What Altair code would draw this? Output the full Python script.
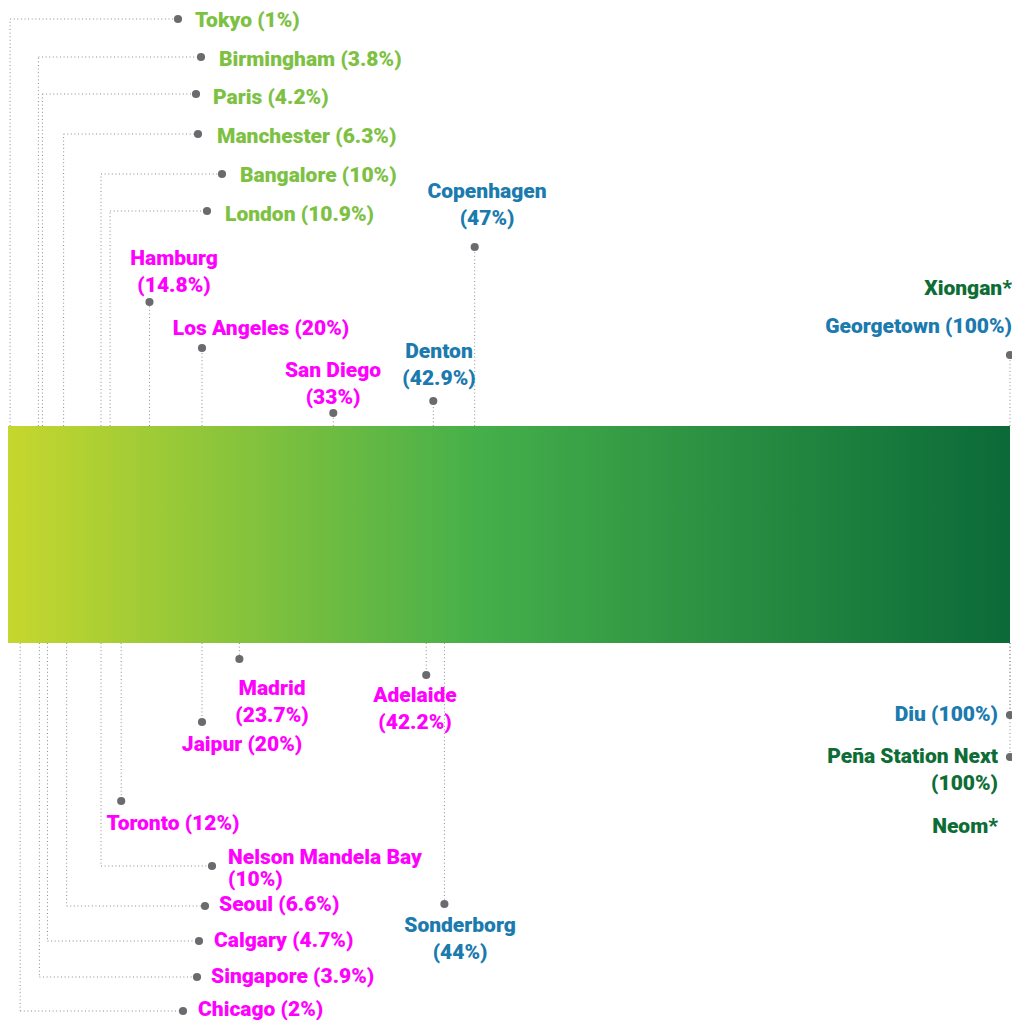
import altair as alt
import pandas as pd

# ---------------- data ----------------
cities = ["Tokyo", "Birmingham", "Paris", "Manchester", "Bangalore", "London",
          "Hamburg", "Los Angeles", "San Diego", "Denton", "Copenhagen", "Georgetown",
          "Madrid", "Jaipur", "Adelaide", "Toronto", "Nelson Mandela Bay", "Seoul",
          "Calgary", "Singapore", "Chicago", "Sonderborg", "Diu", "Peña Station Next"]
pcts = [1, 3.8, 4.2, 6.3, 10, 10.9,
        14.8, 20, 33, 42.9, 47, 100,
        23.7, 20, 42.2, 12, 10, 6.6,
        4.7, 3.9, 2, 44, 100, 100]
groups = ["light", "light", "light", "light", "light", "light",
          "magenta", "magenta", "magenta", "blue", "blue", "blue",
          "magenta", "magenta", "magenta", "magenta", "magenta", "magenta",
          "magenta", "magenta", "magenta", "blue", "blue", "dark"]
extra_names = ["Xiongan*", "Neom*"]
extra_groups = ["dark", "dark"]

# ---------------- layout (page pixels) ----------------
PX = 10.1            # page pixels per percentage point
BAR_TOP, BAR_BOTTOM = 426, 643
sides = ["top"] * 12 + ["bottom"] * 12
kinds = ["elbow"] * 6 + ["straight"] * 6 + ["straight"] * 4 + ["elbow"] * 5 + ["straight"] * 3
dot_y = [19, 57, 94, 134, 174, 211,
         302, 348, 413, 401, 247, 355,
         659, 722, 675, 801, 866, 906,
         941, 977, 1011, 904, 715, 757]
dot_x = [178, 201, 196, 198, 222, 207,
         None, None, None, None, None, None,
         None, None, None, None, 212, 205,
         199, 197, 183, None, None, None]
label_x = [195, 219, 213, 217, 240, 225,
           174, 261, 333, 439, 487, 1012,
           272, 242, 415, 173, 228, 219,
           214, 211, 198, 460, 998, 998]
label_y = [21, 60, 98, 137, 176, 215,
           259, 329, 371, 352, 192, 327,
           689, 745, 696, 824, 858, 905,
           941, 977, 1010, 926, 715, 757]
label_align = ["left"] * 6 + ["center"] * 5 + ["right"] + ["center"] * 4 + ["left"] * 5 + ["center", "right", "right"]
label_lines = [1, 1, 1, 1, 1, 1,
               2, 1, 2, 2, 2, 1,
               2, 1, 2, 1, 2, 1,
               1, 1, 1, 2, 1, 2]
line_gap = [27] * 16 + [22] + [27] * 7
extra_x = [1012, 998]
extra_y = [289, 827]

colors = {"light": "#7DC143", "magenta": "#FF00FF", "blue": "#1B7AAE", "dark": "#0E6D36"}

# ---------------- build tables ----------------
rules, dots, texts = [], [], []
for i, c in enumerate(cities):
    p = pcts[i]
    edge = BAR_TOP if sides[i] == "top" else BAR_BOTTOM
    if kinds[i] == "elbow":
        dx = dot_x[i] / PX
        rules.append(dict(x=p, x2=p, y=edge, y2=dot_y[i]))
        rules.append(dict(x=p, x2=dx, y=dot_y[i], y2=dot_y[i]))
        dots.append(dict(x=dx, y=dot_y[i]))
    else:
        rules.append(dict(x=p, x2=p, y=edge, y2=dot_y[i]))
        dots.append(dict(x=p, y=dot_y[i]))
    val = f"({p:g}%)"
    if label_lines[i] == 1:
        lines = [f"{c} {val}"]
    else:
        lines = [c, val]
    for k, t in enumerate(lines):
        texts.append(dict(text=t, x=label_x[i] / PX, y=label_y[i] + k * line_gap[i],
                          align=label_align[i], group=groups[i]))
for n, g, lx, ly in zip(extra_names, extra_groups, extra_x, extra_y):
    texts.append(dict(text=n, x=lx / PX, y=ly, align="right", group=g))

rules_df = pd.DataFrame(rules)
dots_df = pd.DataFrame(dots)
texts_df = pd.DataFrame(texts)
bar_df = pd.DataFrame([dict(x=0, x2=100, y=BAR_TOP, y2=BAR_BOTTOM)])

W, H = 1004, 1012
xs = alt.Scale(domain=[8 / PX, (8 + W) / PX], clamp=True)
ys = alt.Scale(domain=[8, 8 + H], reverse=True)
X = alt.X("x:Q", scale=xs, axis=None)
Y = alt.Y("y:Q", scale=ys, axis=None)

grad = alt.Gradient(
    gradient="linear",
    stops=[alt.GradientStop(color="#C6D72E", offset=0),
           alt.GradientStop(color="#45AF4A", offset=0.47),
           alt.GradientStop(color="#0B6A38", offset=1)],
    x1=0, x2=1, y1=0, y2=0)

bar = alt.Chart(bar_df).mark_rect(color=grad).encode(x=X, x2="x2:Q", y=Y, y2="y2:Q")

lines_layer = alt.Chart(rules_df).mark_rule(
    color="#8C8C8C", strokeWidth=1, strokeDash=[1, 2.6]
).encode(x=X, x2="x2:Q", y=Y, y2="y2:Q")

dots_layer = alt.Chart(dots_df).mark_circle(size=66, color="#6A6B6E", opacity=1).encode(x=X, y=Y)

color_enc = alt.Color("group:N", scale=alt.Scale(domain=list(colors.keys()), range=list(colors.values())), legend=None)

text_layers = []
for a in ["left", "center", "right"]:
    sub = texts_df[texts_df["align"] == a]
    text_layers.append(
        alt.Chart(sub).mark_text(
            align=a, baseline="middle", font="Roboto", fontWeight=900, fontSize=21
        ).encode(x=X, y=Y, text="text:N", color=color_enc)
    )

chart = alt.layer(bar, lines_layer, dots_layer, *text_layers).properties(
    width=W, height=H,
    autosize=alt.AutoSizeParams(type="none"),
    padding={"left": 0, "top": 0, "right": 0, "bottom": 0},
).configure_view(stroke=None)

chart.save("out.html", embed_options={"renderer": "svg", "actions": False})
